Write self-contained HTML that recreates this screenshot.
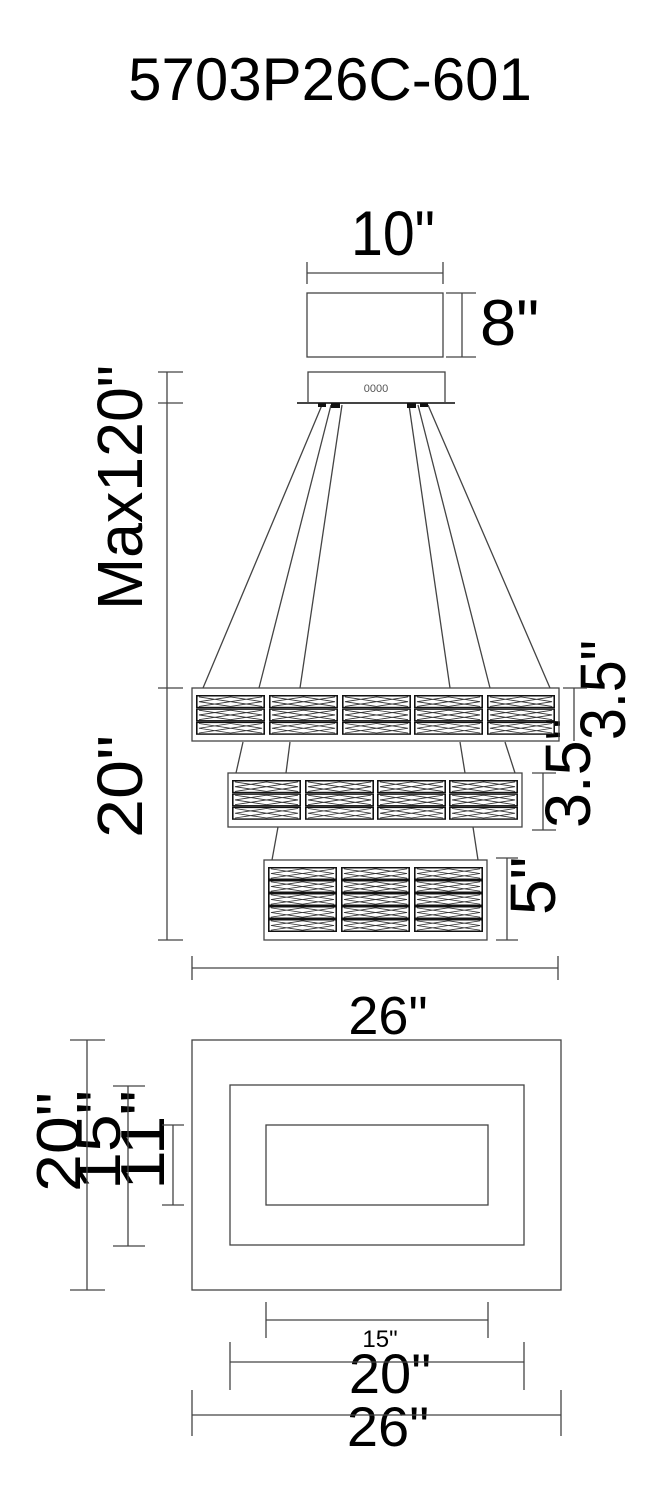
<!DOCTYPE html>
<html><head><meta charset="utf-8"><style>
html,body{margin:0;padding:0;background:#fff;}
svg{display:block;font-family:"Liberation Sans",Arial,sans-serif;}
</style></head><body>
<svg width="655" height="1500" viewBox="0 0 655 1500" xmlns="http://www.w3.org/2000/svg">
<defs>
<symbol id="r" viewBox="0 0 70 14" preserveAspectRatio="none">
<rect x="0.8" y="0.8" width="68.4" height="12.4" fill="#fff" stroke="#111" stroke-width="1.6"/>
<path d="M3 2 L67 12 M3 12 L67 2 M3 7 L35 2 L67 7 M3 7 L35 12 L67 7" stroke="#333" stroke-width="0.9" fill="none"/>
</symbol>
</defs>
<g fill="#000">
<text x="330" y="100" font-size="60" text-anchor="middle">5703P26C-601</text>
<text x="393" y="255" font-size="63" text-anchor="middle" textLength="84" lengthAdjust="spacingAndGlyphs">10"</text>
<text x="480" y="345" font-size="65">8"</text>
<text transform="translate(142,610) rotate(-90)" font-size="64" textLength="245" lengthAdjust="spacingAndGlyphs">Max120"</text>
<text transform="translate(142,838) rotate(-90)" font-size="64" textLength="103" lengthAdjust="spacingAndGlyphs">20"</text>
<text transform="translate(625,740) rotate(-90)" font-size="64" textLength="100" lengthAdjust="spacingAndGlyphs">3.5"</text>
<text transform="translate(590,828) rotate(-90)" font-size="64" textLength="110" lengthAdjust="spacingAndGlyphs">3.5"</text>
<text transform="translate(555,915) rotate(-90)" font-size="64">5"</text>
<text x="388" y="1034" font-size="54" text-anchor="middle">26"</text>
<text transform="translate(80,1192) rotate(-90)" font-size="62" textLength="100" lengthAdjust="spacingAndGlyphs">20"</text>
<text transform="translate(120,1190) rotate(-90)" font-size="62" textLength="100" lengthAdjust="spacingAndGlyphs">15"</text>
<text transform="translate(164,1190) rotate(-90)" font-size="62" textLength="100" lengthAdjust="spacingAndGlyphs">11"</text>
<text x="380" y="1347" font-size="24" text-anchor="middle">15"</text>
<text x="390" y="1393" font-size="56" text-anchor="middle">20"</text>
<text x="388" y="1446" font-size="56" text-anchor="middle">26"</text>
<text x="376" y="392" font-size="11" text-anchor="middle" fill="#555">0000</text>
</g>
<g stroke="#444" stroke-width="1.3" fill="none">
<path d="M307 273 H443 M307 262 V284 M443 262 V284"/>
<rect x="307" y="293" width="136" height="64"/>
<path d="M462 293 V357 M446 293 H476 M446 357 H476"/>
<rect x="308" y="372" width="137" height="31"/>
<path d="M297 403 H455" stroke-width="2"/>
<path d="M167 372 V940 M158 372 H183 M158 403 H183 M158 688 H183 M158 940 H183"/>
<path d="M322 405 L203 688 M331 405 L259 688 M342 405 L300 688 M409 405 L450 688 M418 405 L490 688 M428 405 L550 688"/>
<path d="M243 742 L236 773 M290 742 L286 773 M460 742 L465 773 M505 742 L515 773"/>
<path d="M278 827 L272 860 M473 827 L478 860"/>
<rect x="192" y="688" width="367" height="53"/>
<rect x="228" y="773" width="294" height="54"/>
<rect x="264" y="860" width="223" height="80"/>
<path d="M574 688 V741 M563 688 H587"/>
<path d="M543 773 V830 M532 773 H556 M532 830 H556"/>
<path d="M507 858 V940 M496 858 H518 M496 940 H518"/>
<path d="M192 968 H558 M192 956 V980 M558 956 V980"/>
<rect x="192" y="1040" width="369" height="250"/>
<rect x="230" y="1085" width="294" height="160"/>
<rect x="266" y="1125" width="222" height="80"/>
<path d="M87 1040 V1290 M70 1040 H105 M70 1290 H105"/>
<path d="M128 1086 V1246 M113 1086 H145 M113 1246 H145"/>
<path d="M173 1125 V1205 M162 1125 H184 M162 1205 H184"/>
<path d="M266 1320 H488 M266 1302 V1338 M488 1302 V1338"/>
<path d="M230 1362 H524 M230 1342 V1390 M524 1342 V1390"/>
<path d="M192 1415 H561 M192 1390 V1436 M561 1390 V1436"/>
</g>
<g fill="#111">
<rect x="318" y="403" width="8" height="4"/><rect x="331" y="403" width="9" height="5"/>
<rect x="407" y="403" width="9" height="5"/><rect x="420" y="403" width="8" height="4"/>
</g>
<g>
<use href="#r" x="196" y="695" width="69" height="13.3"/><use href="#r" x="196" y="708.3" width="69" height="13.3"/><use href="#r" x="196" y="721.6" width="69" height="13.3"/>
<use href="#r" x="269" y="695" width="69" height="13.3"/><use href="#r" x="269" y="708.3" width="69" height="13.3"/><use href="#r" x="269" y="721.6" width="69" height="13.3"/>
<use href="#r" x="342" y="695" width="69" height="13.3"/><use href="#r" x="342" y="708.3" width="69" height="13.3"/><use href="#r" x="342" y="721.6" width="69" height="13.3"/>
<use href="#r" x="414" y="695" width="69" height="13.3"/><use href="#r" x="414" y="708.3" width="69" height="13.3"/><use href="#r" x="414" y="721.6" width="69" height="13.3"/>
<use href="#r" x="487" y="695" width="68" height="13.3"/><use href="#r" x="487" y="708.3" width="68" height="13.3"/><use href="#r" x="487" y="721.6" width="68" height="13.3"/>
</g>
<g>
<use href="#r" x="232" y="780" width="69" height="13.3"/><use href="#r" x="232" y="793.3" width="69" height="13.3"/><use href="#r" x="232" y="806.6" width="69" height="13.3"/>
<use href="#r" x="305" y="780" width="69" height="13.3"/><use href="#r" x="305" y="793.3" width="69" height="13.3"/><use href="#r" x="305" y="806.6" width="69" height="13.3"/>
<use href="#r" x="377" y="780" width="69" height="13.3"/><use href="#r" x="377" y="793.3" width="69" height="13.3"/><use href="#r" x="377" y="806.6" width="69" height="13.3"/>
<use href="#r" x="449" y="780" width="69" height="13.3"/><use href="#r" x="449" y="793.3" width="69" height="13.3"/><use href="#r" x="449" y="806.6" width="69" height="13.3"/>
</g>
<g>
<use href="#r" x="268" y="867" width="69" height="13"/><use href="#r" x="268" y="880" width="69" height="13"/><use href="#r" x="268" y="893" width="69" height="13"/><use href="#r" x="268" y="906" width="69" height="13"/><use href="#r" x="268" y="919" width="69" height="13"/>
<use href="#r" x="341" y="867" width="69" height="13"/><use href="#r" x="341" y="880" width="69" height="13"/><use href="#r" x="341" y="893" width="69" height="13"/><use href="#r" x="341" y="906" width="69" height="13"/><use href="#r" x="341" y="919" width="69" height="13"/>
<use href="#r" x="414" y="867" width="69" height="13"/><use href="#r" x="414" y="880" width="69" height="13"/><use href="#r" x="414" y="893" width="69" height="13"/><use href="#r" x="414" y="906" width="69" height="13"/><use href="#r" x="414" y="919" width="69" height="13"/>
</g>
</svg>
</body></html>
